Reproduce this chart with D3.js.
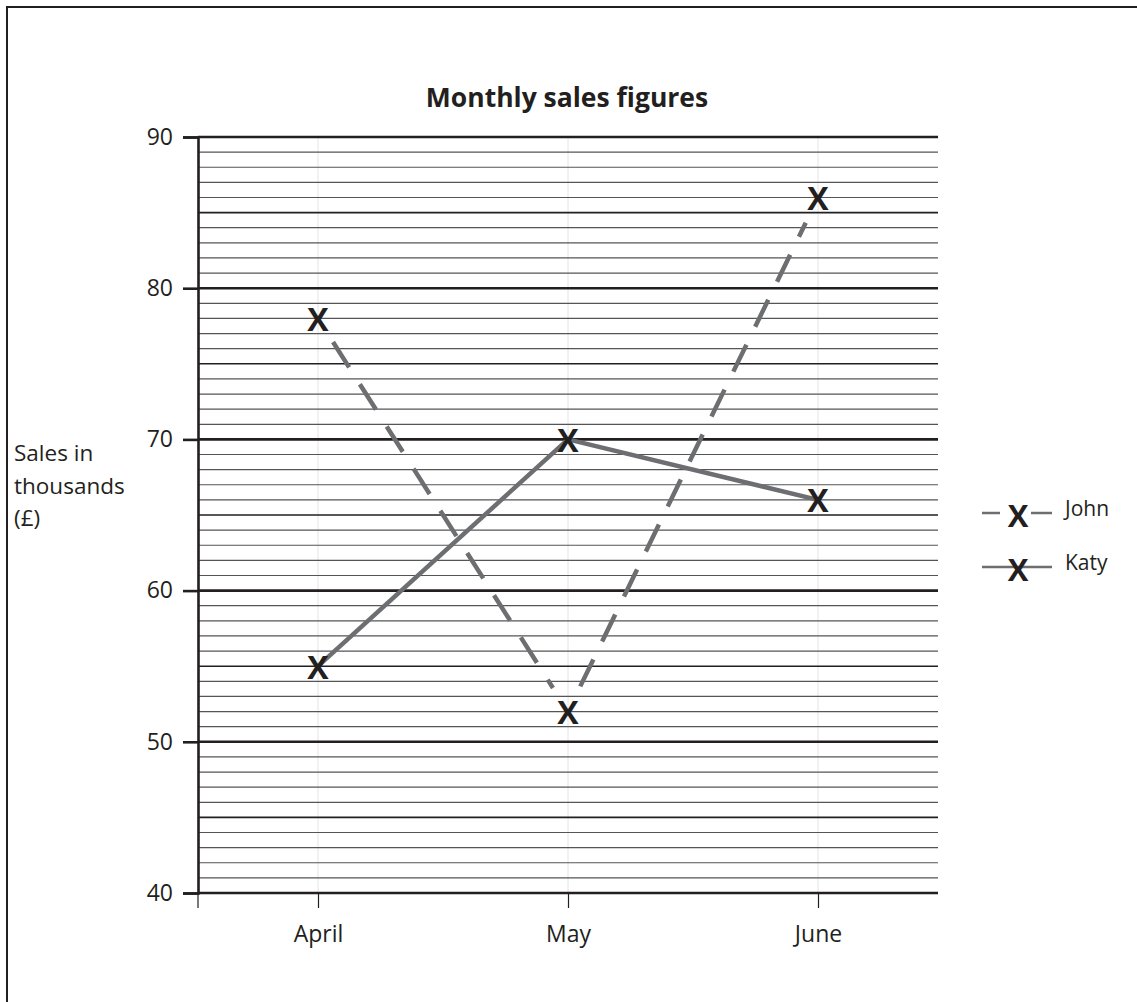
<!DOCTYPE html>
<html><head><meta charset="utf-8">
<script src="https://cdn.jsdelivr.net/npm/d3@7"></script>
<style>body{margin:0;background:#fff}svg{display:block}text{font-family:"Open Sans","Noto Sans",sans-serif;fill:#231f20}</style>
</head><body>
<svg id="c" width="1137" height="1002"></svg>
<script>
const months = ["April", "May", "June"];
const johnSales = [78, 52, 86];
const katySales = [55, 70, 66];
const yTicks = [40, 50, 60, 70, 80, 90];
const seriesNames = ["John", "Katy"];

const svg = d3.select("#c");
const x = d3.scalePoint().domain(months).range([198, 938]).padding(0.48);
const y = d3.scaleLinear().domain([40, 90]).range([893, 137]);

// frame
svg.append("rect").attr("x", 7).attr("y", 7).attr("width", 1150).attr("height", 1010)
  .attr("fill", "none").attr("stroke", "#231f20").attr("stroke-width", 2);

// faint vertical category lines
svg.append("g").selectAll("line").data(months).join("line")
  .attr("x1", d => x(d)).attr("x2", d => x(d)).attr("y1", y(90)).attr("y2", y(40))
  .attr("stroke", "#e4e4e4").attr("stroke-width", 1);

// horizontal gridlines
const grid = d3.range(40, 91);
svg.append("g").selectAll("line").data(grid).join("line")
  .attr("x1", 198).attr("x2", 938)
  .attr("y1", d => y(d)).attr("y2", d => y(d))
  .attr("stroke", d => d % 5 === 0 ? "#231f20" : "#555")
  .attr("stroke-width", d => d % 10 === 0 ? 2.6 : (d % 5 === 0 ? 1.6 : 1.2));

// y axis
const yAxis = d3.axisLeft(y).tickValues(yTicks).tickSize(15).tickPadding(10);
const gy = svg.append("g").attr("transform", "translate(198,0)").call(yAxis);
gy.select(".domain").attr("stroke", "#231f20").attr("stroke-width", 2.6);
gy.selectAll(".tick line").attr("stroke", "#231f20").attr("stroke-width", 2.6);
gy.selectAll(".tick text").style("font-size", "23px").attr("fill", "#231f20");

// x axis
const xAxis = d3.axisBottom(x).tickSize(15).tickPadding(18);
const gx = svg.append("g").attr("transform", `translate(0,${y(40)})`).call(xAxis);
gx.select(".domain").remove();
gx.selectAll(".tick line").attr("stroke", "#231f20").attr("stroke-width", 1.2);
gx.selectAll(".tick text").style("font-size", "23px").attr("fill", "#231f20");
svg.append("line").attr("x1", 198).attr("x2", 198).attr("y1", y(40)).attr("y2", y(40) + 15)
  .attr("stroke", "#231f20").attr("stroke-width", 1.2);

// title
svg.append("text").attr("x", 567).attr("y", 107).attr("text-anchor", "middle")
  .style("font-size", "26.5px").style("font-weight", "bold").text("Monthly sales figures");

// y label
const yl = svg.append("text").attr("x", 14).attr("y", 461).style("font-size", "22.5px");
["Sales in", "thousands", "(£)"].forEach((t, i) => yl.append("tspan").attr("x", 14).attr("dy", i ? 32.5 : 0).text(t));

const lineColor = "#6d6e71";
function seg(vals, trim, dash) {
  for (let i = 0; i < vals.length - 1; i++) {
    const x1 = x(months[i]), y1 = y(vals[i]), x2 = x(months[i + 1]), y2 = y(vals[i + 1]);
    const L = Math.hypot(x2 - x1, y2 - y1), ux = (x2 - x1) / L, uy = (y2 - y1) / L;
    svg.append("line")
      .attr("x1", x1 + ux * trim).attr("y1", y1 + uy * trim)
      .attr("x2", x2 - ux * trim).attr("y2", y2 - uy * trim)
      .attr("stroke", lineColor).attr("stroke-width", 4.5)
      .attr("stroke-dasharray", dash);
  }
}
seg(johnSales, 28, "30,20");
seg(katySales, 0, null);

function marker(cx, cy, size) {
  svg.append("text").attr("x", cx).attr("y", cy).attr("text-anchor", "middle")
    .attr("dominant-baseline", "central")
    .style("font-size", size + "px").style("font-weight", "bold")
    .attr("fill", "#231f20").text("X");
}
[johnSales, katySales].forEach(vals => vals.forEach((v, i) => marker(x(months[i]), y(v), 32)));

// legend
const legY = [513, 567];
seriesNames.forEach((n, i) => {
  const ly = legY[i];
  if (i === 0) {
    svg.append("line").attr("x1", 982).attr("x2", 1000).attr("y1", ly).attr("y2", ly).attr("stroke", lineColor).attr("stroke-width", 2.5);
    svg.append("line").attr("x1", 1031).attr("x2", 1052).attr("y1", ly).attr("y2", ly).attr("stroke", lineColor).attr("stroke-width", 2.5);
  } else {
    svg.append("line").attr("x1", 982).attr("x2", 1052).attr("y1", ly).attr("y2", ly).attr("stroke", lineColor).attr("stroke-width", 2.5);
  }
  marker(1018, ly + 2, 31);
  svg.append("text").attr("x", 1065).attr("y", ly + 3).style("font-size", "21px").text(n);
});
</script>
</body></html>
